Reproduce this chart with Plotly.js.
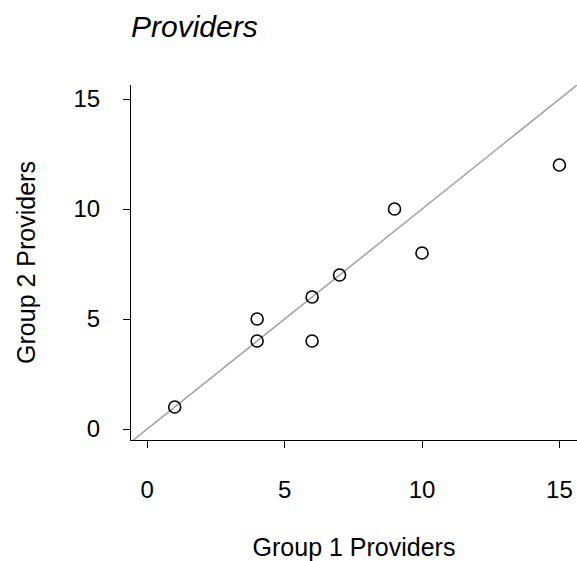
<!DOCTYPE html>
<html>
<head>
<meta charset="utf-8">
<script src="https://cdn.plot.ly/plotly-3.0.1.min.js"></script>
<style>
  html, body { margin: 0; padding: 0; background: #fff; }
  #chart { width: 577px; height: 561px; }
</style>
</head>
<body>
<div id="chart"></div>
<script>
// Provider counts per site: group 1 vs group 2
var group1Providers = [1, 4, 4, 6, 6, 7, 9, 10, 15];
var group2Providers = [1, 5, 4, 6, 4, 7, 10, 8, 12];

// Identity reference line y = x
var identityX = [-1, 17];
var identityY = [-1, 17];

var tickVals = [0, 5, 10, 15];
var tickText = ['0', '5', '10', '15'];

var FONT = '"Liberation Sans", Arial, Helvetica, sans-serif';

var traces = [
  {
    x: identityX,
    y: identityY,
    mode: 'lines',
    type: 'scatter',
    line: { color: '#a0a0a0', width: 1.5 },
    hoverinfo: 'skip',
    showlegend: false
  },
  {
    x: group1Providers,
    y: group2Providers,
    mode: 'markers',
    type: 'scatter',
    marker: {
      symbol: 'circle-open',
      size: 12,
      color: '#000',
      line: { color: '#000', width: 1.6 }
    },
    showlegend: false
  }
];

var layout = {
  width: 577,
  height: 561,
  paper_bgcolor: '#fff',
  plot_bgcolor: '#fff',
  margin: { l: 131, r: 0, t: 85, b: 121 },
  font: { family: FONT, color: '#000' },
  title: {
    text: 'Providers',
    font: { family: FONT, size: 30, style: 'italic', color: '#000' },
    xref: 'paper',
    x: 0,
    xanchor: 'left',
    yref: 'container',
    y: 1 - 26 / 561,
    yanchor: 'middle'
  },
  xaxis: {
    range: [-0.59, 15.64],
    tickvals: tickVals,
    ticktext: tickText,
    ticks: 'outside',
    ticklen: 7,
    tickwidth: 1,
    tickcolor: '#000',
    ticklabelstandoff: 21,
    tickfont: { family: FONT, size: 24, color: '#000' },
    showline: true,
    linecolor: '#000',
    linewidth: 1,
    showgrid: false,
    zeroline: false,
    automargin: false,
    title: {
      text: 'Group 1 Providers',
      font: { family: FONT, size: 25, color: '#000' },
      standoff: 37
    }
  },
  yaxis: {
    range: [-0.5, 15.64],
    tickvals: tickVals,
    ticktext: tickText,
    ticks: 'outside',
    ticklen: 7,
    tickwidth: 1,
    tickcolor: '#000',
    ticklabelstandoff: 18,
    tickfont: { family: FONT, size: 24, color: '#000' },
    showline: true,
    linecolor: '#000',
    linewidth: 1,
    showgrid: false,
    zeroline: false,
    automargin: false,
    title: {
      text: 'Group 2 Providers',
      font: { family: FONT, size: 25, color: '#000' },
      standoff: 30
    }
  }
};

Plotly.newPlot('chart', traces, layout, { displayModeBar: false, staticPlot: true });
</script>
</body>
</html>
